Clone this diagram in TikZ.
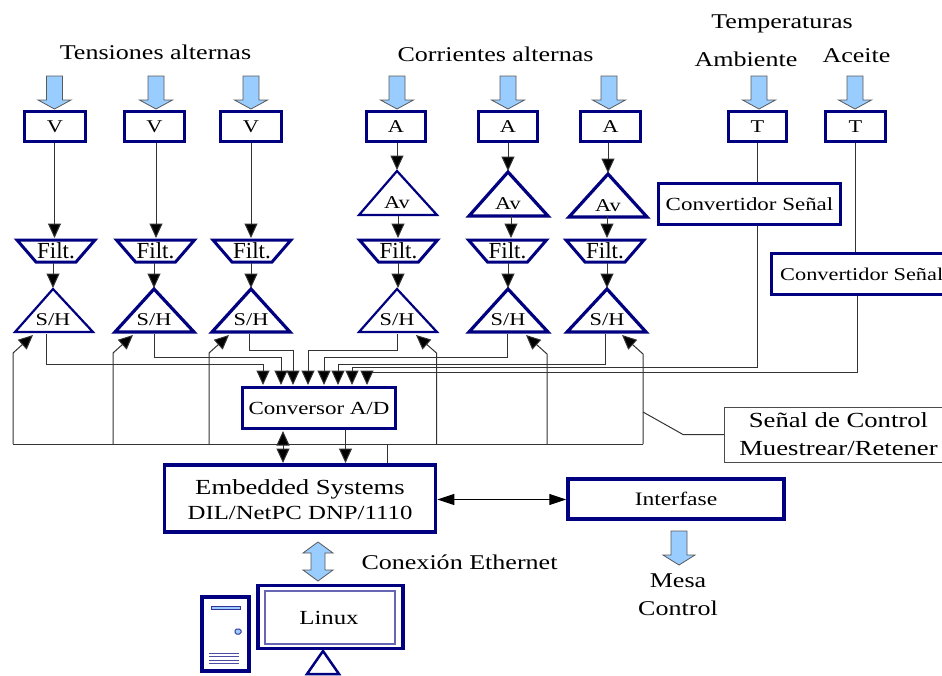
\documentclass[tikz,border=0pt]{standalone}
\usepackage{fontspec}
\setmainfont[FakeStretch=1.24]{Liberation Serif}
\newfontfamily\plainf{Liberation Serif}
\usetikzlibrary{arrows.meta}
\definecolor{nv}{HTML}{000080}
\definecolor{fat}{HTML}{99CCFF}
\definecolor{wire}{HTML}{333333}
\tikzset{
 x=1pt,y=-1pt,
 cbox/.style={draw=nv,line width=3.5pt,inner sep=0pt,minimum width=#1,minimum height=30pt,font=\fontsize{18}{18}\selectfont},
 lab/.style={inner sep=0pt,font=\fontsize{18}{18}\selectfont},
 title/.style={inner sep=0pt,font=\fontsize{21}{28}\selectfont,align=center},
 fatarrow/.style={draw=black!65,fill=fat,line width=.8pt},
 wired/.style={draw=wire,line width=1pt},
 tip/.style={wired,-{Triangle[width=13pt,length=14.5pt,fill=black]}},
 bitip/.style={wired,{Triangle[width=13pt,length=14.5pt,fill=black]}-{Triangle[width=13pt,length=14.5pt,fill=black]}},
 longtip/.style={draw=black,line width=1pt,{Triangle[width=11pt,length=17pt,fill=black]}-{Triangle[width=11pt,length=17pt,fill=black]}},
}
\newcommand{\fatdown}[2]{\draw[fatarrow] (#1-8,#2) -- (#1+8,#2) -- (#1+8,#2+24) -- (#1+16.5,#2+24) -- (#1,#2+33) -- (#1-16.5,#2+24) -- (#1-8,#2+24) -- cycle;}
\newcommand{\filt}[2]{\draw[draw=nv,line width=3pt,fill=white] (#2-39,240) -- (#2+39,240) -- (#2+20,262) -- (#2-20,262) -- cycle;
 \node[inner sep=0pt,font=\plainf\fontsize{23}{23}\selectfont] (#1) at (#2,251) {Filt.};}
% name, apex x, apex y, left, right, base y, text, text y, line width
\newcommand{\tria}[9]{\draw[draw=nv,line width=#9pt,fill=white] (#2,#3) -- (#5,#6) -- (#4,#6) -- cycle;
 \node[lab] (#1) at (#2,#8) {#7};}
\begin{document}
\begin{tikzpicture}
\useasboundingbox (0,0) rectangle (942,675);
\fill[white] (0,0) rectangle (942,675);
% titles
\node[title] (t1) at (155.5,52) {Tensiones alternas};
\node[title] (t2) at (495.5,54) {Corrientes alternas};
\node[title] (t3) at (782,24) {Temperaturas};
\node[title] (t4) at (746,59) {Ambiente};
\node[title] (t5) at (856.5,56) {Aceite};
% fat arrows
\foreach \x in {54.5,156,251,397,508,609,759,855} {\fatdown{\x}{76}}
% input boxes
\foreach \n/\x/\w/\t in {v1/55/61/V,v2/154.5/60/V,v3/251/61/V,a1/396/59/A,a2/508/59/A,a3/610.5/60/A,t1b/757.5/58/T,t2b/855.5/60/T}
 {\node[cbox=\w pt] (\n) at (\x,126.5) {\t};}
% Av triangles
\tria{av1}{397}{171}{359}{437}{215}{Av}{203}{2.2}
\tria{av2}{508}{172}{469}{548}{216}{Av}{204}{3.2}
\tria{av3}{608}{174}{569}{647}{217}{Av}{206}{3.2}
% filters
\filt{f1}{56}
\filt{f2}{155.5}
\filt{f3}{252}
\filt{f4}{398.5}
\filt{f5}{507.5}
\filt{f6}{605}
% S/H
\tria{s1}{53}{289}{15}{93}{332}{S/H}{320}{2.2}
\tria{s2}{154}{289}{115}{194}{332}{S/H}{320}{3.2}
\tria{s3}{251}{289}{212}{290}{332}{S/H}{320}{3.2}
\tria{s4}{397}{289}{359}{437}{332}{S/H}{320}{2.2}
\tria{s5}{508}{289}{469}{548}{332}{S/H}{320}{3.2}
\tria{s6}{607}{289}{567}{646}{332}{S/H}{320}{3.2}
% connector anchors
\foreach \n/\x/\y in {c1/263/385,c2/281/385,c3/293/385,c4/308/385,c5/324/385,c6/338/385,c7/352/385,c8/367/385,
  o1/46/334,o2/154/334,o3/249/334,o4/397/334,o5/507/334,o6/605/334,
  k1/33/335,k2/133/335,k3/229/335,k4/416/335,k5/526/335,k6/622/335}
 {\coordinate (\n) at (\x,\y);}
% rest boxes
\node[cbox=153pt,minimum height=41pt,font=\fontsize{18.5}{18.5}\selectfont] (ad) at (319,408) {Conversor A/D};
\node[draw=nv,line width=3.5pt,minimum width=271pt,minimum height=67pt,inner sep=0pt] (es) at (300,498.5) {};
\node[inner sep=0pt,align=center,font=\fontsize{20}{25}\selectfont] (estext) at (300,500) {{\fontsize{21.5}{25}\selectfont Embedded Systems}\\DIL/NetPC DNP/1110};
\node[draw=nv,line width=3.5pt,minimum width=216pt,minimum height=40pt,inner sep=0pt,font=\fontsize{19}{19}\selectfont] (if) at (676,499) {Interfase};
\node[cbox=182pt,minimum height=41pt,font=\fontsize{18.5}{18.5}\selectfont] (cs1) at (749.5,204) {Convertidor Señal};
\node[draw=nv,line width=3.5pt,inner sep=0pt,minimum width=181pt,minimum height=41pt,font=\fontsize{18}{18}\selectfont,anchor=west] (cs2) at (769.5,274) {Convertidor Señal};
\node[draw=black!70,line width=.9pt,inner sep=0pt,minimum width=228pt,minimum height=55pt,align=center,anchor=west,font=\fontsize{21.5}{28}\selectfont] (ctl) at (724,434.5) {Señal de Control\\Muestrear/Retener};
% signal chain
\foreach \a/\b/\x in {v1/f1/54.5,v2/f2/156,v3/f3/251}
 {\coordinate (\a o) at (\x,143); \coordinate (\b i) at (\x,238); \draw[tip] (\a o) -- (\b i);}
\foreach \a/\b/\x/\y in {a1/av1/397/170,a2/av2/508/171,a3/av3/608/173}
 {\coordinate (\a o) at (\x,143); \coordinate (\b i) at (\x,\y); \draw[tip] (\a o) -- (\b i);}
\foreach \a/\b/\x in {av1/f4/398,av2/f5/511,av3/f6/607}
 {\coordinate (\a o) at (\x,216); \coordinate (\b i) at (\x,238); \draw[tip] (\a o) -- (\b i);}
\foreach \a/\b/\x in {f1/s1/53,f2/s2/154,f3/s3/251,f4/s4/398,f5/s5/508,f6/s6/607}
 {\coordinate (\a o) at (\x,263); \coordinate (\b i) at (\x,288); \draw[tip] (\a o) -- (\b i);}
% S/H outputs to converter
\draw[tip] (o1) -- (46,364) -- (263,364) -- (c1);
\draw[tip] (o2) -- (154,357) -- (281,357) -- (c2);
\draw[tip] (o3) -- (249,350) -- (293,350) -- (c3);
\draw[tip] (o4) -- (397,350) -- (308,350) -- (c4);
\draw[tip] (o5) -- (507,357) -- (324,357) -- (c5);
\draw[tip] (o6) -- (605,364) -- (338,364) -- (c6);
\draw[tip] (757,226) -- (757,367) -- (352,367) -- (c7);
\draw[tip] (857,296) -- (857,372) -- (367,372) -- (c8);
\draw[wired] (t1b.south) -- (t1b.south |- cs1.north);
\draw[wired] (t2b.south) -- (t2b.south |- cs2.north);
% control bus
\draw[wired] (13,444) -- (643,444);
\draw[tip] (13,444) -- (13,353) -- (k1);
\draw[tip] (113,444) -- (113,353) -- (k2);
\draw[tip] (209,444) -- (209,353) -- (k3);
\draw[tip] (436.5,444) -- (436.5,353) -- (k4);
\draw[tip] (547,444) -- (547,354) -- (k5);
\draw[tip] (643,444) -- (643,354) -- (k6);
\draw[wired] (387.5,444) -- (387.5,463);
\draw[wired] (ctl.west) -- (683,434.5) -- (643,412);
\draw[bitip] (283,431) -- (283,463);
\draw[tip] (345.5,430) -- (345.5,463);
\draw[longtip] ([yshift=-1pt]es.east) -- ([yshift=-0.5pt]if.west);
% lower fat arrows
\draw[fatarrow] (671,531) -- (687,531) -- (687,555) -- (695,555) -- (679,565) -- (663,555) -- (671,555) -- cycle;
\node[title] (mc) at (678,595) {Mesa\\Control};
\draw[fatarrow] (318,542) -- (333,553) -- (325,553) -- (325,570) -- (333,570) -- (318,581) -- (303,570) -- (311,570) -- (311,553) -- (303,553) -- cycle;
\node[title] (eth) at (459.5,562) {Conexión Ethernet};
% computer
\node[draw=nv,line width=3.5pt,minimum width=145pt,minimum height=63pt,inner sep=0pt] (mon) at (330.5,617) {};
\draw[draw=nv!60,line width=1.2pt] (265,591) rectangle (395,644);
\node[title,font=\fontsize{20}{24}\selectfont] (lx) at (329,618) {Linux};
\draw[draw=nv,line width=2.5pt] (323,651) -- (339,674) -- (307,674) -- cycle;
\draw[draw=nv,line width=3.5pt] (202,597) rectangle (249,671);
\draw[draw=nv!80,fill=fat,line width=1pt] (211,606) rectangle (240,609.5);
\draw[draw=nv!80,fill=fat,line width=1pt,rounded corners=1.5pt] (235,629) rectangle (241,634);
\foreach \y in {653,656.5,660,663.5} {\draw[draw=nv!70,line width=.9pt] (209,\y) -- (239,\y);}
\end{tikzpicture}
\end{document}
